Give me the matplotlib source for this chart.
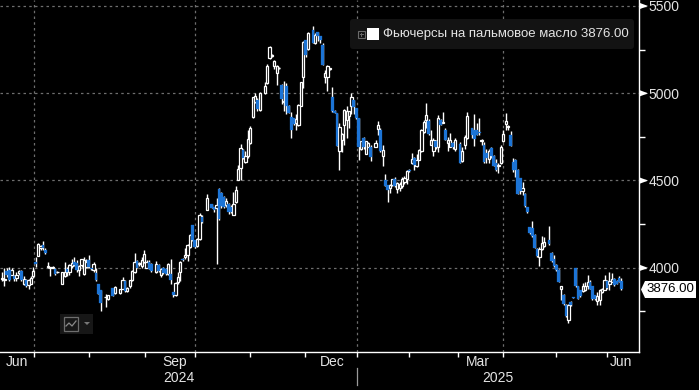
import numpy as np
import matplotlib
matplotlib.use("Agg")
import matplotlib.pyplot as plt
from matplotlib.patches import FancyBboxPatch, Rectangle, Polygon
from matplotlib.lines import Line2D
from matplotlib.transforms import Affine2D

plt.rcParams['font.family'] = ['Liberation Sans', 'DejaVu Sans']

sessions = [0,1,2,3,4,5,6,7,8,9,10,11,12,13,14,15,16,17,18,19,20,21,22,23,25,26,27,28,29,30,31,32,33,34,35,36,37,38,39,40,41,43,44,
46,47,49,50,51,52,53,54,55,56,57,58,59,60,61,62,64,65,66,67,68,69,70,71,72,73,74,75,76,77,78,79,80,81,82,83,85,87,88,89,90,91,92,93,94,95,96,97,
98,99,100,101,102,103,104,105,106,107,109,110,111,112,113,114,115,116,117,118,119,120,121,122,123,124,125,126,127,129,130,131,132,133,134,135,136,137,138,139,140,141,142,143,144,145,146,147,148,
149,150,151,152,153,155,156,157,158,159,160,161,162,163,164,165,166,167,168,169,170,171,172,173,174,175,176,177,178,179,180,181,182,183,184,185,186,187,188,190,191,192,193,195,196,197,198,199,200,201,202,203,204,205,206,207,208,209,210,211,212,213,214,215,216,217,218,
219,220,221,222,223,224,225,227,228,229,230,231,232,233,234,235,236,237,238,239,240,241,242,243,244,245,246,247,248,249,250,251,252,253,254,255,256,257]

opens = [3935,3928,3981,3985,3960,3950,3940,3968,3979,3908,3931,3899,3908,3952,4030,4069,4110,4132,4100,4003,4000,4000,3990,3973,3908,3952,3994,3975,4010,4032,4027,3985,4013,3966,4005,4042,3998,3985,3970,3908,3870,3830,3817,
3883,3855,3855,3880,3922,3864,3893,3927,3975,4036,4021,4008,4032,4000,4032,4019,3975,4013,3956,4000,3994,3962,3962,3860,3841,3918,3975,4052,4060,4070,4118,4242,4157,4122,4166,4290,4332,4363,4345,4340,4449,4430,4405,4357,4367,4347,4303,4376,
4503,4570,4675,4608,4637,4713,4862,4952,4962,4905,5000,5057,5200,5215,5153,5118,5145,5048,4950,5042,4927,4861,4857,4828,4818,4927,5095,5302,5252,5363,5286,5348,5328,5277,5092,5092,5138,4977,4900,4885,4671,4733,4818,4847,4870,4924,4958,4914,4857,
4680,4742,4652,4694,4694,4694,4794,4790,4637,4500,4471,4456,4475,4507,4450,4456,4470,4490,4507,4562,4600,4631,4580,4618,4671,4780,4847,4843,4704,4671,4723,4690,4847,4830,4790,4713,4694,4717,4680,4710,4612,4704,4742,4800,4786,4786,4780,4728,4704,4656,4624,4685,4640,4600,4584,4600,4723,4824,4808,4762,4608,4618,4561,4513,4440,4423,4348,
4233,4227,4185,4109,4061,4109,4125,4157,4086,4048,4013,3987,3880,3841,3784,3698,3803,3829,4000,3893,3870,3866,3870,3893,3918,3893,3841,3809,3813,3860,3874,3924,3905,3915,3937,3924,3943,3924]

highs = [3975,4000,4000,4005,4000,3960,3975,3985,3985,3950,3935,3935,3950,4005,4060,4140,4130,4155,4110,4030,4005,4007,3995,3980,3975,4030,4005,4020,4050,4060,4045,4015,4050,4060,4050,4070,4000,4030,4000,3908,3870,3850,3845,
3885,3895,3880,3945,3930,3890,3930,3985,4085,4045,4030,4060,4100,4045,4045,4025,4035,4020,4000,4005,4000,4025,4050,3860,3920,3975,4035,4055,4110,4135,4190,4245,4160,4170,4315,4300,4420,4365,4350,4400,4455,4435,4410,4400,4370,4360,4435,4465,
4590,4710,4680,4670,4790,4810,4980,5000,4975,5005,5065,5165,5270,5222,5190,5160,5150,5050,5070,5060,4930,4890,4860,4880,4940,5065,5300,5305,5350,5385,5345,5350,5330,5290,5130,5160,5145,5035,4905,4885,4830,4770,4910,4925,4900,5000,4960,4915,4857,
4725,4750,4725,4720,4700,4730,4840,4800,4700,4535,4475,4480,4510,4520,4490,4490,4520,4525,4560,4565,4655,4635,4650,4680,4795,4845,4945,4850,4790,4740,4730,4875,4850,4890,4800,4750,4770,4720,4740,4720,4690,4760,4890,4800,4880,4830,4860,4735,4720,4680,4680,4690,4645,4620,4600,4700,4790,4885,4815,4785,4630,4620,4565,4513,4490,4425,4350,
4235,4265,4190,4115,4120,4180,4175,4240,4090,4070,4020,3990,3893,3850,3790,3790,3810,3830,4000,3895,3870,3910,3920,3960,3930,3895,3845,3860,3880,3885,3960,3930,3975,3970,3940,3930,3950,3940]

lows = [3925,3895,3945,3925,3955,3925,3925,3960,3925,3900,3890,3880,3905,3940,4005,4065,4100,4100,4075,3995,3950,3998,3960,3970,3905,3945,3950,3955,4000,4010,3975,3950,4005,3960,4000,4000,3985,3975,3925,3850,3750,3775,3815,
3835,3850,3850,3875,3860,3860,3885,3925,3970,4000,4010,4000,4025,4000,3990,3975,3970,3975,3945,3965,3955,3960,3905,3830,3835,3905,3925,4040,4050,4040,4110,4150,4110,4120,4160,4255,4330,4340,4320,4023,4270,4340,4340,4350,4310,4315,4300,4370,
4500,4500,4625,4600,4630,4710,4860,4945,4900,4895,4995,5050,5195,5210,5140,5045,5140,4940,4895,4880,4885,4745,4820,4790,4810,4925,5030,5210,5250,5285,5280,5300,5290,5160,5060,5010,5135,4890,4885,4695,4560,4660,4700,4740,4800,4880,4880,4850,4618,
4675,4680,4650,4690,4610,4690,4760,4660,4585,4465,4375,4430,4465,4460,4430,4440,4455,4480,4480,4550,4595,4560,4575,4615,4665,4770,4800,4760,4700,4640,4680,4660,4815,4828,4730,4670,4690,4680,4670,4600,4605,4680,4735,4740,4695,4760,4760,4705,4600,4600,4600,4630,4580,4555,4545,4595,4720,4790,4790,4695,4550,4520,4420,4420,4415,4350,4315,
4195,4175,4110,4060,4010,4100,4120,4130,4030,4005,3980,3915,3815,3785,3715,3680,3780,3825,3890,3820,3830,3860,3865,3880,3875,3815,3815,3785,3785,3855,3870,3880,3870,3915,3895,3905,3915,3870]

closes = [3940,3932,3956,3927,3985,3933,3960,3978,3927,3933,3895,3927,3943,3979,4023,4138,4125,4113,4085,4007,4005,4005,3965,3977,3975,3975,3975,4013,4029,4013,3985,4008,4048,4042,4030,4004,3992,4023,3927,3851,3797,3834,3841,
3838,3891,3876,3927,3864,3885,3927,3981,4032,4000,4025,4046,4076,4032,3994,3981,4023,3981,3989,3970,3962,4019,3927,3841,3912,3946,4032,4042,4070,4128,4185,4157,4118,4166,4303,4262,4401,4344,4330,4360,4281,4351,4347,4382,4319,4319,4367,4447,
4566,4685,4631,4637,4738,4800,4977,4985,4908,5000,5042,5158,5267,5220,5185,5153,5147,4968,4955,4924,4889,4786,4824,4851,4933,5063,5296,5220,5344,5290,5334,5325,5302,5162,5115,5158,5142,4895,4889,4698,4805,4767,4905,4900,4895,4977,4920,4857,4690,
4723,4690,4723,4717,4633,4717,4815,4666,4675,4469,4446,4475,4507,4469,4484,4480,4510,4515,4551,4552,4620,4589,4618,4675,4786,4832,4876,4767,4729,4733,4690,4857,4819,4834,4733,4733,4733,4690,4733,4600,4670,4746,4870,4762,4736,4762,4770,4732,4603,4628,4670,4637,4583,4561,4587,4690,4767,4843,4812,4698,4561,4561,4423,4437,4456,4354,4319,
4199,4181,4113,4067,4109,4143,4145,4134,4038,4010,3985,3918,3893,3790,3721,3784,3784,3826,3893,3822,3836,3893,3895,3918,3880,3818,3818,3836,3870,3875,3927,3884,3924,3933,3899,3908,3918,3876]

y_major = [4000, 4500, 5000, 5500]
y_minor = [3750, 4250, 4750, 5250]
x_ticks = [13.3, 36, 59.3, 80, 103, 125.7, 147.3, 169, 189, 208, 230, 251]
x_grid = [13.3, 80, 147.3, 208]
month_names = ['Jun', 'Sep', 'Dec', 'Mar', 'Jun']
month_pos = [6.2, 71.8, 137, 197.5, 257]
year_names = ['2024', '2025']
year_pos = [73.4, 205.8]
legend_text = 'Фьючерсы на пальмовое масло 3876.00'
last_label = '3876.00'
last_price = 3876

W, H = 699, 390
fig = plt.figure(figsize=(W/100, H/100), dpi=100, facecolor='black')
ax = fig.add_axes([0, 1-352/H, 639/W, 352/H], facecolor='black')
ax.set_xlim(-0.83, 264.3)
ax.set_ylim(3516, 5534)

for s in ['top', 'left']:
    ax.spines[s].set_visible(False)
for s in ['right', 'bottom']:
    ax.spines[s].set_color('white')
    ax.spines[s].set_linewidth(1.0)

ax.yaxis.tick_right()
ax.set_yticks(y_major)
ax.set_yticklabels([str(v) for v in y_major], fontsize=10, color='#e4e4e4')
ax.set_yticks(y_minor, minor=True)
ax.tick_params(axis='y', which='major', length=5, width=1, color='white', pad=2)
ax.tick_params(axis='y', which='minor', length=4, width=1, color='white')
ax.set_xticks(x_ticks)
ax.set_xticklabels([])
ax.tick_params(axis='x', length=3.5, width=1, color='white')

grid_c = '#6e6e6e'
for v in y_major:
    ax.axhline(v, color=grid_c, lw=0.9, ls=(0, (2.0, 2.6)), zorder=1)
for v in x_grid:
    ax.axvline(v, color=grid_c, lw=0.9, ls=(0, (2.0, 2.6)), zorder=1)

BLUE = '#1c74d6'
xs = np.array(sessions, float)
o, h, l, c = map(lambda a: np.array(a, float), (opens, highs, lows, closes))
up = c >= o
ax.vlines(xs[up], l[up], h[up], color='white', lw=1.0, zorder=3)
ax.vlines(xs[~up], l[~up], h[~up], color='white', lw=1.0, zorder=3)
ax.bar(xs[up], (c-o)[up], bottom=o[up], width=0.95, facecolor='black', edgecolor='white', lw=0.9, zorder=4)
ax.bar(xs[~up], (o-c)[~up], bottom=c[~up], width=1.15, facecolor=BLUE, edgecolor=BLUE, lw=0.2, zorder=4)

xt = ax.get_xaxis_transform()
for name, p in zip(month_names, month_pos):
    ax.text(p, 1-362/352, name, transform=xt, ha='center', va='center', fontsize=10, color='#e4e4e4', clip_on=False)
for name, p in zip(year_names, year_pos):
    ax.text(p, 1-378/352, name, transform=xt, ha='center', va='center', fontsize=10, color='#e4e4e4', clip_on=False)

# pixel-space overlay furniture
px = Affine2D().scale(1/W, -1/H).translate(0, 1) + fig.transFigure

fig.add_artist(Line2D([357, 357], [368, 385], transform=px, color='#9a9a9a', lw=0.9))

for v in y_major:
    y = 6 + (5500 - v) * 0.1746
    fig.add_artist(Polygon([[640, y-3], [648, y], [640, y+3]], closed=True, transform=px, fc='white', ec='none', zorder=5))

fig.add_artist(FancyBboxPatch((352, 21), 280, 26, boxstyle='round,pad=2,rounding_size=3', transform=px,
                              fc='#131313', ec='none', zorder=5))
fig.add_artist(Rectangle((357.5, 30.5), 7, 7, transform=px, fc='none', ec='#6a6a6a', lw=0.8, zorder=6))
fig.add_artist(Line2D([359.5, 362.5], [34, 34], transform=px, color='#6a6a6a', lw=0.7, zorder=6))
fig.add_artist(Line2D([361, 361], [32.5, 35.5], transform=px, color='#6a6a6a', lw=0.7, zorder=6))
fig.add_artist(Rectangle((367, 28), 12, 12, transform=px, fc='white', ec='none', zorder=6))
fig.text(383/W, 1-34.5/H, legend_text, fontsize=9.5, color='#e4e4e4', ha='left', va='center', zorder=7)

fig.add_artist(Rectangle((60, 314), 33, 20, transform=px, fc='#171717', ec='none', zorder=5))
fig.add_artist(Rectangle((64, 317), 14, 14, transform=px, fc='none', ec='#6e6e6e', lw=0.9, zorder=6))
fig.add_artist(Line2D([66, 69, 72, 76], [326, 323, 326, 321], transform=px, color='#8a8a8a', lw=0.9, zorder=6))
fig.add_artist(Polygon([[84, 322], [90, 322], [87, 325]], closed=True, transform=px, fc='#777777', ec='none', zorder=6))

fig.add_artist(Polygon([[641, 289.5], [645, 281], [696, 281], [696, 298], [645, 298]], closed=True, transform=px,
                       fc='white', ec='none', zorder=5))
fig.text(670.5/W, 1-289.5/H, last_label, fontsize=9.5, color='black', ha='center', va='center', zorder=7)

fig.savefig('out.png', dpi=100, facecolor='black')
